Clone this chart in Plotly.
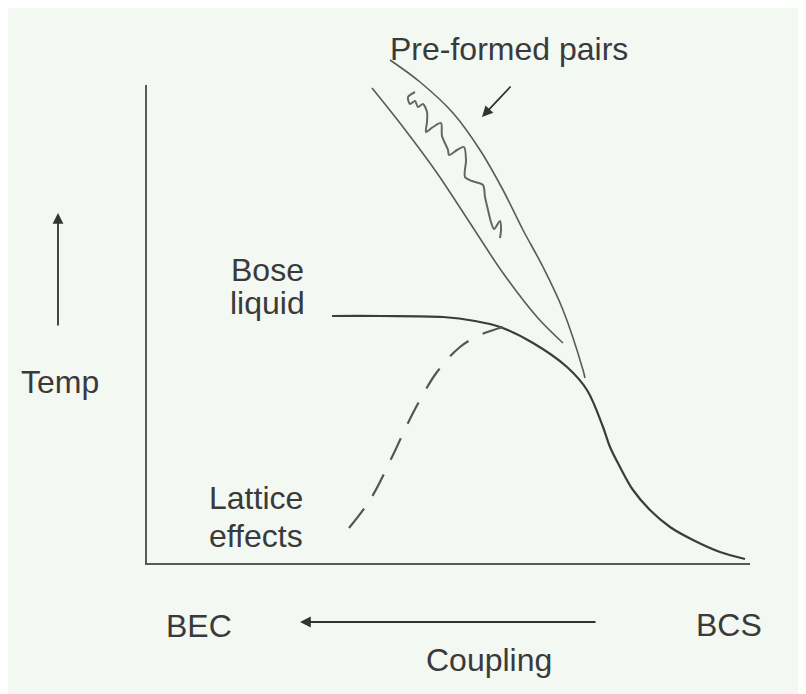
import plotly.graph_objects as go

# chart units: x = coupling (origin at the axis corner), y = temperature
axis_x = [0, 0, 604]
axis_y = [479, 0, 0]

main_x = [186, 234, 297, 329, 354, 387, 421, 441, 457, 464, 474, 487, 504, 524, 547, 574, 599]
main_y = [248, 248, 247, 243, 237, 221, 197, 174, 137, 117, 97, 74, 54, 37, 24, 12, 5]

lattice_x = [203, 224, 247, 261, 274, 291, 314, 334, 357]
lattice_y = [36, 64, 109, 139, 164, 192, 217, 229, 237]

outer_x = [244, 274, 307, 334, 357, 377, 397, 417, 437, 439]
outer_y = [504, 482, 451, 414, 374, 334, 297, 254, 194, 186]

inner_x = [226, 257, 291, 324, 357, 391, 417]
inner_y = [476, 437, 391, 341, 291, 247, 221]

wiggle_x = [269, 262, 264, 269, 272, 277, 281, 281, 280, 287, 295, 296, 302, 303,
            311, 318, 320, 319, 326, 337, 339, 342, 345, 348, 354, 355, 354]
wiggle_y = [472, 467, 460, 463, 457, 460, 452, 442, 432, 437, 441, 428, 414, 409,
            414, 417, 404, 387, 383, 379, 367, 354, 342, 335, 343, 334, 326]

labels = ["Pre-formed pairs", "Bose", "liquid", "Lattice", "effects", "Temp", "BEC", "BCS", "Coupling"]
label_x = [363, 121, 121, 110, 110, -86, 53, 583, 343]
label_y = [515, 294, 261, 66, 28, 182, -62, -61, -96]

# arrows: (tail x, tail y, head x, head y)
arrows = [(-88, 237, -88, 351), (451, -58, 154, -58), (366, 479, 336, 447)]

INK = "#3c3c3c"
BG = "#f3f8f3"

fig = go.Figure()
fig.add_trace(go.Scatter(x=axis_x, y=axis_y, mode="lines", line=dict(color="#5a5a5a", width=2)))
fig.add_trace(go.Scatter(x=main_x, y=main_y, mode="lines", line=dict(color=INK, width=2.2, shape="spline")))
fig.add_trace(go.Scatter(x=lattice_x, y=lattice_y, mode="lines",
                         line=dict(color="#555555", width=2.2, shape="spline", dash="24px,16px")))
fig.add_trace(go.Scatter(x=outer_x, y=outer_y, mode="lines", line=dict(color="#5a5a5a", width=1.6, shape="spline")))
fig.add_trace(go.Scatter(x=inner_x, y=inner_y, mode="lines", line=dict(color="#5a5a5a", width=1.6, shape="spline")))
fig.add_trace(go.Scatter(x=wiggle_x, y=wiggle_y, mode="lines",
                         line=dict(color="#666666", width=2, shape="spline", smoothing=0.8)))

for t, x, y in zip(labels, label_x, label_y):
    fig.add_annotation(x=x, y=y, text=t, showarrow=False, xanchor="center", yanchor="middle",
                       font=dict(family="Liberation Sans, Arial", size=32, color="#3a3a3a"))

for tx, ty, hx, hy in arrows:
    fig.add_annotation(x=hx, y=hy, ax=tx, ay=ty, xref="x", yref="y", axref="x", ayref="y",
                       text="", showarrow=True, arrowhead=2, arrowsize=1.2, arrowwidth=1.8,
                       arrowcolor="#333333")

# the page body adds an 8px offset, so the ranges are shifted to match the reference
fig.update_layout(
    width=806, height=694,
    margin=dict(l=0, r=0, t=0, b=0),
    paper_bgcolor=BG, plot_bgcolor=BG,
    showlegend=False,
    xaxis=dict(range=[-138, 668], visible=False, fixedrange=True),
    yaxis=dict(range=[-138, 556], visible=False, fixedrange=True),
)

fig.write_html("out.html")
